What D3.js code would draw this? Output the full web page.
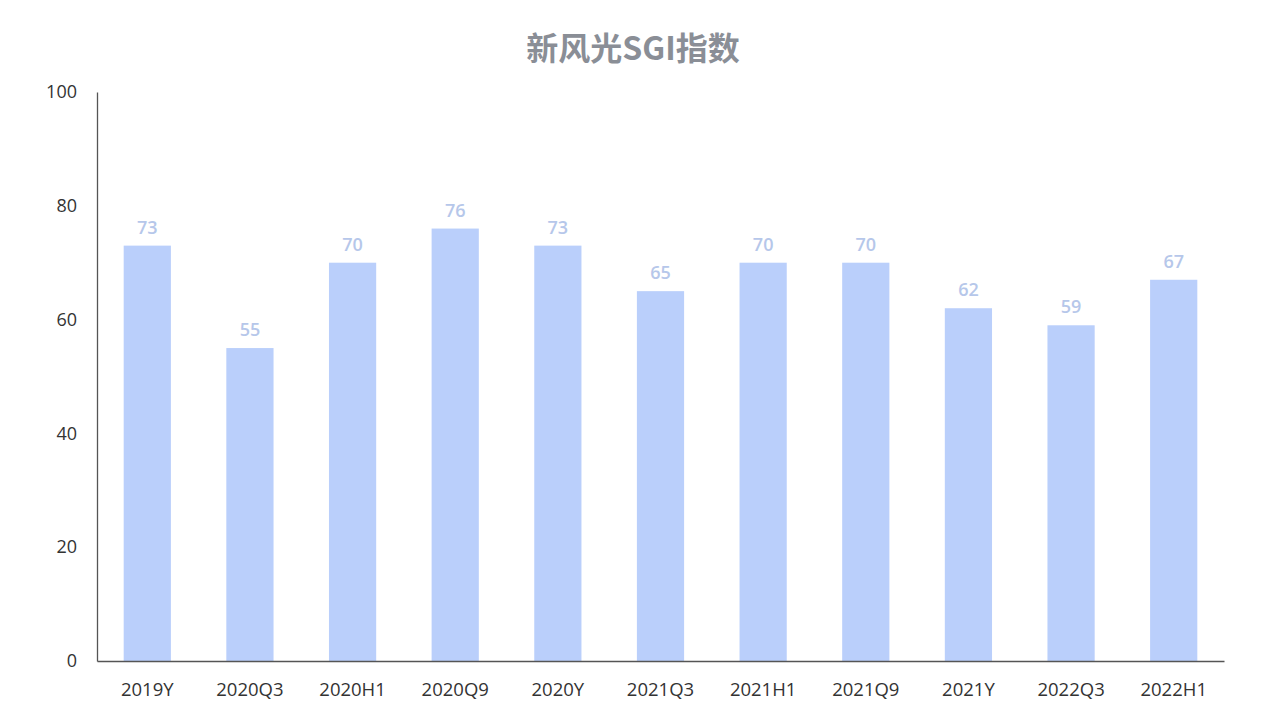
<!DOCTYPE html>
<html><head><meta charset="utf-8">
<script src="https://cdn.jsdelivr.net/npm/d3@7"></script>
<style>html,body{margin:0;padding:0;background:#fff;}svg{display:block;}</style>
</head><body>
<svg id="chart" width="1267" height="728"></svg>
<script>
const title = "新风光SGI指数";
const categories = ["2019Y","2020Q3","2020H1","2020Q9","2020Y","2021Q3","2021H1","2021Q9","2021Y","2022Q3","2022H1"];
const values = [73,55,70,76,73,65,70,70,62,59,67];
const yTicks = [0,20,40,60,80,100];

const W = 1267, H = 728;
const m = {left:97, right:43, top:92, bottom:67};
const svg = d3.select("#chart");
const font = "'Open Sans','Noto Sans CJK SC',sans-serif";

const x = d3.scaleBand().domain(categories).range([m.left, W - m.right]).paddingInner(0.54).paddingOuter(0.26);
const y = d3.scaleLinear().domain([0,100]).range([H - m.bottom, m.top]);

svg.append("text").attr("x", 633).attr("y", 60).attr("text-anchor","middle")
  .attr("font-family","'Noto Sans CJK SC',sans-serif").attr("font-weight","bold")
  .attr("font-size",32).attr("fill","#8a8e96").text(title);

svg.append("g").selectAll("rect").data(values).join("rect")
  .attr("x",(d,i)=>x(categories[i])).attr("width",x.bandwidth())
  .attr("y",d=>y(d)).attr("height",d=>y(0)-y(d)).attr("fill","#bacffb");

svg.append("g").selectAll("text").data(values).join("text")
  .attr("x",(d,i)=>x(categories[i])+x.bandwidth()/2).attr("y",d=>y(d)-12)
  .attr("text-anchor","middle").attr("font-family",font).attr("font-size",18)
  .attr("font-weight",600).attr("fill","#b6c7ea").text(d=>d);

const yAxis = svg.append("g").attr("transform",`translate(${m.left},0)`)
  .call(d3.axisLeft(y).tickValues(yTicks).tickSize(0).tickPadding(20));
yAxis.select(".domain").attr("stroke","#555").attr("stroke-width",1.3);
yAxis.selectAll("text").attr("font-family",font).attr("font-size",18).attr("fill","#333");

const xAxis = svg.append("g").attr("transform",`translate(0,${H - m.bottom})`)
  .call(d3.axisBottom(x).tickSize(0).tickPadding(22));
xAxis.select(".domain").attr("stroke","#555").attr("stroke-width",1.3);
xAxis.selectAll("text").attr("font-family",font).attr("font-size",18.5).attr("fill","#333");
</script>
</body></html>
